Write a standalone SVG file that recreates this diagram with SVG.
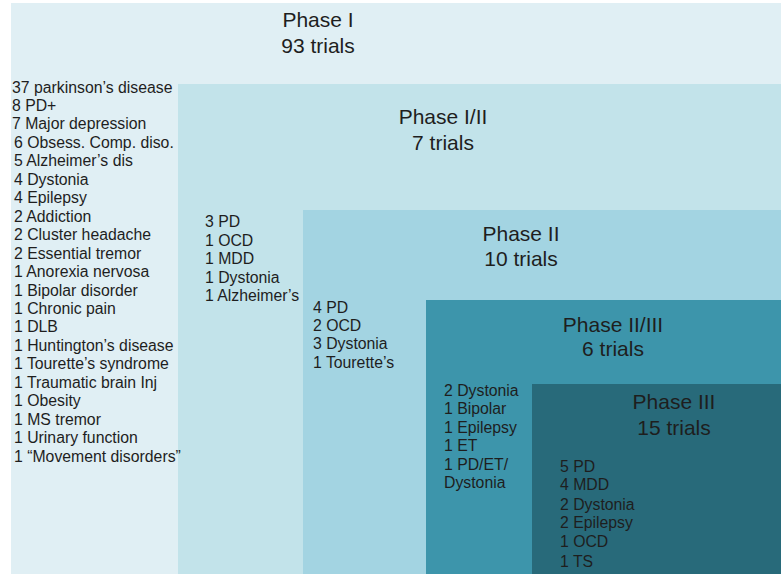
<svg xmlns="http://www.w3.org/2000/svg" width="781" height="574" viewBox="0 0 781 574">
<style>
text{font-family:"Liberation Sans",Arial,sans-serif;fill:#1e1e1e}
.t{font-size:21px;text-anchor:middle}
.l{font-size:15.8px}
</style>
<rect width="781" height="574" fill="#ffffff"/>
<g id="phase1">
<rect x="11" y="3" width="770" height="571" fill="#e0eff4"/>
<text class="t" x="318" y="26.5">Phase I</text>
<text class="t" x="318" y="53">93 trials</text>
</g>
<g id="phase1-2">
<rect x="178" y="84" width="603" height="490" fill="#c2e3ea"/>
<text class="t" x="443" y="124.3">Phase I/II</text>
<text class="t" x="443" y="150">7 trials</text>
<text class="l" x="205" y="227">3 PD</text>
<text class="l" x="205" y="246">1 OCD</text>
<text class="l" x="205" y="264">1 MDD</text>
<text class="l" x="205" y="283">1 Dystonia</text>
<text class="l" x="205" y="301">1 Alzheimer’s</text>
</g>
<g id="phase2">
<rect x="303" y="210" width="478" height="364" fill="#a3d4e2"/>
<text class="t" x="521" y="240.7">Phase II</text>
<text class="t" x="521" y="265.7">10 trials</text>
<text class="l" x="313" y="313">4 PD</text>
<text class="l" x="313" y="331">2 OCD</text>
<text class="l" x="313" y="349">3 Dystonia</text>
<text class="l" x="313" y="368">1 Tourette’s</text>
</g>
<g id="phase2-3">
<rect x="426" y="300" width="355" height="274" fill="#3d95ab"/>
<text class="t" x="613" y="331.7">Phase II/III</text>
<text class="t" x="613" y="356">6 trials</text>
<text class="l" x="444" y="396">2 Dystonia</text>
<text class="l" x="444" y="413.5">1 Bipolar</text>
<text class="l" x="444" y="433">1 Epilepsy</text>
<text class="l" x="444" y="450.7">1 ET</text>
<text class="l" x="444" y="470">1 PD/ET/</text>
<text class="l" x="444" y="488.3">Dystonia</text>
</g>
<g id="phase3">
<rect x="532" y="384" width="249" height="190" fill="#286a7a"/>
<text class="t" x="674" y="409.3">Phase III</text>
<text class="t" x="674" y="435">15 trials</text>
<text class="l" x="560" y="472.3">5 PD</text>
<text class="l" x="560" y="490">4 MDD</text>
<text class="l" x="560" y="510">2 Dystonia</text>
<text class="l" x="560" y="528.3">2 Epilepsy</text>
<text class="l" x="560" y="546.7">1 OCD</text>
<text class="l" x="560" y="567.3">1 TS</text>
</g>
<g id="phase1-list">
<text class="l" x="12" y="92.5">37 parkinson’s disease</text>
<text class="l" x="12" y="111">8 PD+</text>
<text class="l" x="12" y="129.4">7 Major depression</text>
<text class="l" x="14" y="147.9">6 Obsess. Comp. diso.</text>
<text class="l" x="14" y="166.3">5 Alzheimer’s dis</text>
<text class="l" x="14" y="184.8">4 Dystonia</text>
<text class="l" x="14" y="203.2">4 Epilepsy</text>
<text class="l" x="14" y="221.7">2 Addiction</text>
<text class="l" x="14" y="240.1">2 Cluster headache</text>
<text class="l" x="14" y="258.6">2 Essential tremor</text>
<text class="l" x="14" y="277">1 Anorexia nervosa</text>
<text class="l" x="14" y="295.5">1 Bipolar disorder</text>
<text class="l" x="14" y="313.9">1 Chronic pain</text>
<text class="l" x="14" y="332.4">1 DLB</text>
<text class="l" x="14" y="350.8">1 Huntington’s disease</text>
<text class="l" x="14" y="369.3">1 Tourette’s syndrome</text>
<text class="l" x="14" y="387.7">1 Traumatic brain Inj</text>
<text class="l" x="14" y="406.2">1 Obesity</text>
<text class="l" x="14" y="424.6">1 MS tremor</text>
<text class="l" x="14" y="443.1">1 Urinary function</text>
<text class="l" x="14" y="461.5">1 “Movement disorders”</text>
</g>
<g id="connectors"/>
</svg>
